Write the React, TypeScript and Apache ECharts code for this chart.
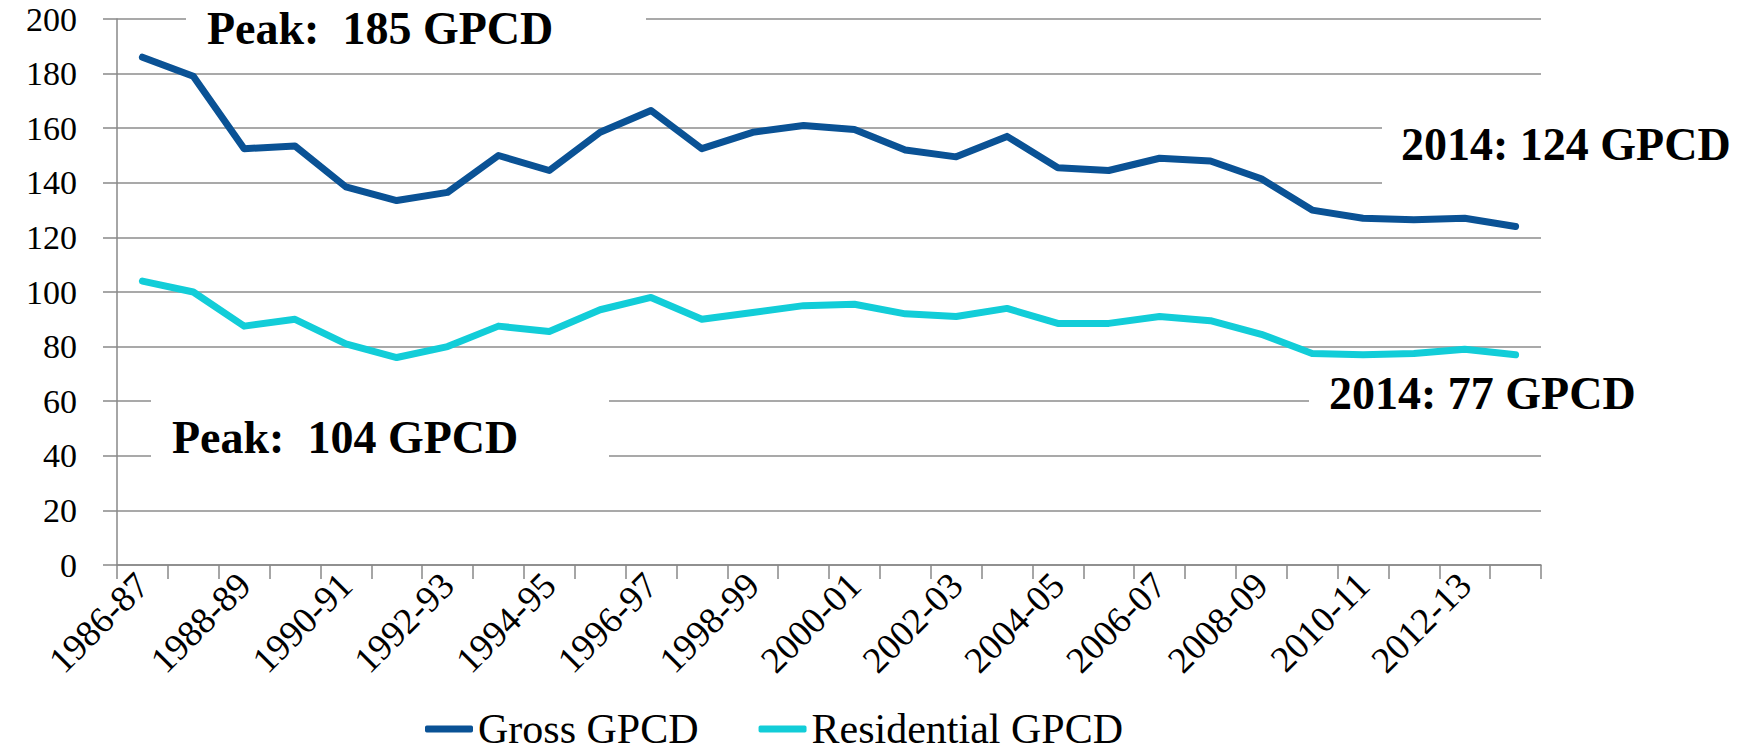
import React, { useEffect, useRef } from "react";
import * as echarts from "echarts";

const categories = [
  "1986-87", "1987-88", "1988-89", "1989-90", "1990-91", "1991-92", "1992-93",
  "1993-94", "1994-95", "1995-96", "1996-97", "1997-98", "1998-99", "1999-00",
  "2000-01", "2001-02", "2002-03", "2003-04", "2004-05", "2005-06", "2006-07",
  "2007-08", "2008-09", "2009-10", "2010-11", "2011-12", "2012-13", "2013-14",
];

const grossGPCD = [
  186, 179, 152.5, 153.5, 138.5, 133.5, 136.5, 150, 144.5, 158.5, 166.5, 152.5,
  158.5, 161, 159.5, 152, 149.5, 157, 145.5, 144.5, 149, 148, 141.5, 130, 127,
  126.5, 127, 124,
];

const residentialGPCD = [
  104, 100, 87.5, 90, 81, 76, 80, 87.5, 85.5, 93.5, 98, 90, 92.5, 95, 95.5, 92,
  91, 94, 88.5, 88.5, 91, 89.5, 84.5, 77.5, 77, 77.5, 79, 77,
];

const seriesNames = ["Gross GPCD", "Residential GPCD"];
const yTicks = { min: 0, max: 200, interval: 20 };

const annotationTexts = ["Peak:  185 GPCD", "2014: 124 GPCD", "2014: 77 GPCD", "Peak:  104 GPCD"];

export default function App() {
  const ref = useRef<HTMLDivElement>(null);

  useEffect(() => {
    if (!ref.current) return;
    const chart = echarts.init(ref.current, undefined, { renderer: "svg" });
    const font = '"Liberation Serif", serif';
    const annFont = 'bold 46px "Liberation Serif", serif';

    const boxes = [
      { tx: 207, ty: 28, bx: 186, by: 0, bw: 460, bh: 55 },
      { tx: 1401, ty: 144, bx: 1382, by: 95, bw: 372, bh: 120 },
      { tx: 1329, ty: 393, bx: 1309, by: 365, bw: 445, bh: 70 },
      { tx: 172, ty: 437, bx: 151, by: 380, bw: 458, bh: 100 },
    ];

    const graphic: any[] = [];
    boxes.forEach((b, i) => {
      graphic.push({
        type: "rect",
        z: 1,
        shape: { x: b.bx, y: b.by, width: b.bw, height: b.bh },
        style: { fill: "#ffffff" },
        silent: true,
      });
      graphic.push({
        type: "text",
        z: 5,
        x: b.tx,
        y: b.ty,
        style: {
          text: annotationTexts[i],
          font: annFont,
          fill: "#000000",
          textAlign: "left",
          textVerticalAlign: "middle",
        },
        silent: true,
      });
    });

    chart.setOption({
      animation: false,
      backgroundColor: "#ffffff",
      grid: { left: 117, right: 213, top: 19, bottom: 189, containLabel: false },
      legend: {
        data: seriesNames,
        left: 420,
        top: 703,
        icon: "roundRect",
        itemWidth: 48,
        itemHeight: 7,
        itemGap: 60,
        textStyle: { fontFamily: font, fontSize: 42, lineHeight: 40, color: "#000" },
      },
      xAxis: {
        type: "category",
        data: categories,
        boundaryGap: true,
        axisLine: { show: true, lineStyle: { color: "#888888", width: 1.5 } },
        axisTick: { show: true, interval: 0, length: 14, lineStyle: { color: "#888888", width: 1.5 } },
        axisLabel: {
          interval: 1,
          rotate: 45,
          margin: 14,
          fontFamily: font,
          fontSize: 37,
          color: "#000",
        },
        splitLine: { show: false },
      },
      yAxis: {
        type: "value",
        min: yTicks.min,
        max: yTicks.max,
        interval: yTicks.interval,
        axisLine: { show: true, lineStyle: { color: "#888888", width: 1.5 } },
        axisTick: { show: true, length: 14, lineStyle: { color: "#888888", width: 1.5 } },
        axisLabel: { margin: 40, fontFamily: font, fontSize: 34, color: "#000" },
        splitLine: { show: true, lineStyle: { color: "#8c8c8c", width: 1.5 } },
      },
      graphic,
      series: [
        {
          name: seriesNames[0],
          type: "line",
          data: grossGPCD,
          symbol: "none",
          z: 3,
          lineStyle: { color: "#0A5295", width: 7, cap: "round", join: "round" },
          itemStyle: { color: "#0A5295" },
        },
        {
          name: seriesNames[1],
          type: "line",
          data: residentialGPCD,
          symbol: "none",
          z: 3,
          lineStyle: { color: "#12CDD8", width: 7, cap: "round", join: "round" },
          itemStyle: { color: "#12CDD8" },
        },
      ],
    });

    return () => chart.dispose();
  }, []);

  return (
    <div
      ref={ref}
      style={{ position: "absolute", left: 0, top: 0, width: 1754, height: 754 }}
    />
  );
}
